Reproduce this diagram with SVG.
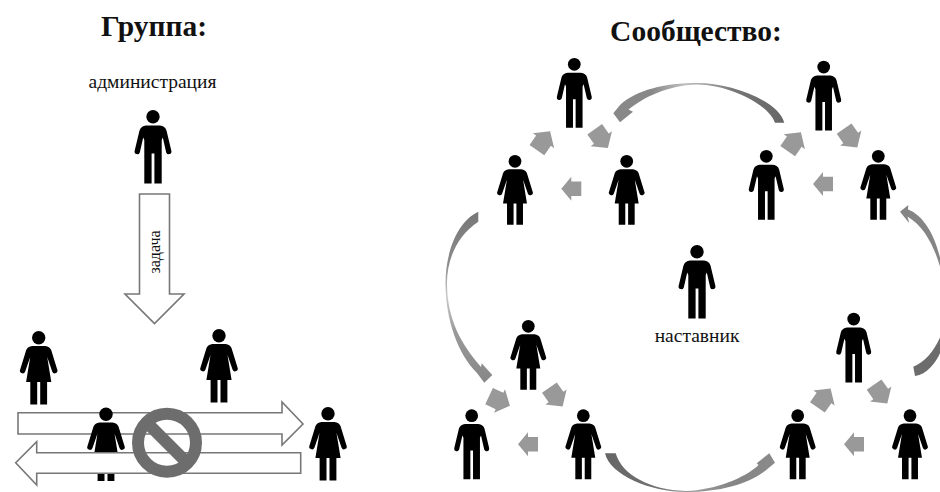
<svg xmlns="http://www.w3.org/2000/svg" xmlns:xlink="http://www.w3.org/1999/xlink" width="940" height="492" viewBox="0 0 940 492">
<style>
text{font-family:"Liberation Serif","Times New Roman",serif;fill:#111;text-anchor:middle}
.title{font-weight:bold;font-size:29.500px}
.label{font-size:19.500px}
.small{font-size:16px}
.flow{fill:#fff;stroke:#777;stroke-width:1.6}
.step{fill:#999}
</style>
<defs>
<symbol id="man" overflow="visible"><circle cx="0" cy="6.7" r="6.7"/><path d="M-7,15.500H7Q12,16 13.500,20.500L18.400,41A2.700,2.700 0 0 1 13.200,42.400L9.800,27.500 8.700,30V73.500H1.400V43.500H-1.400V73.500H-8.700V30L-9.800,27.500-13.200,42.400A2.700,2.700 0 0 1-18.400,41L-13.500,20.500Q-12,16-7,15.500Z"/></symbol>
<symbol id="woman" overflow="visible"><circle cx="0" cy="6.7" r="6.7"/><path d="M-6.500,15H6.500Q11,15.500 12.500,19L18.500,38.500A2.700,2.700 0 0 1 13.600,40.800L8.500,26 12.600,51H8.400V73.500H1.500V51H-1.500V73.500H-8.400V51H-12.600L-8.500,26-13.600,40.800A2.700,2.700 0 0 1-18.500,38.500L-12.500,19Q-11,15.500-6.500,15Z"/></symbol>
<polygon id="step" class="step" points="-10,-7.300 0,-7.300 0,-12 10,0 0,12 0,7.300 -10,7.300"/>
<polygon id="stepd" class="step" points="-11.500,-9 0,-9 0,-13 11.500,0 0,13 0,9 -11.500,9"/>
<linearGradient id="gTop" gradientUnits="userSpaceOnUse" x1="784" y1="120" x2="613" y2="115"><stop offset="0" stop-color="#666"/><stop offset=".3" stop-color="#777"/><stop offset=".58" stop-color="#c0c0c0"/><stop offset=".78" stop-color="#888"/><stop offset="1" stop-color="#888"/></linearGradient>
<linearGradient id="gLeft" gradientUnits="userSpaceOnUse" x1="478" y1="212" x2="490" y2="380"><stop offset="0" stop-color="#777"/><stop offset=".3" stop-color="#8c8c8c"/><stop offset=".48" stop-color="#ccc"/><stop offset=".7" stop-color="#999"/><stop offset="1" stop-color="#888"/></linearGradient>
<linearGradient id="gBottom" gradientUnits="userSpaceOnUse" x1="605" y1="455" x2="775" y2="460"><stop offset="0" stop-color="#666"/><stop offset=".3" stop-color="#707070"/><stop offset=".5" stop-color="#a0a0a0"/><stop offset=".75" stop-color="#858585"/><stop offset="1" stop-color="#8a8a8a"/></linearGradient>
</defs>
<rect width="940" height="492" fill="#fff"/>

<g id="left-flows">
<polygon class="flow" points="18,412.700 282,412.700 282,402 303,424 282,445 282,434 18,434"/>
</g>
<text class="title" x="154" y="36">Группа:</text>
<text class="label" x="152.500" y="88">администрация</text>
<g id="task-arrow"><polygon class="flow" points="139.500,194 169.500,194 169.500,294 184,294 154.500,323.500 125,294 139.500,294"/><text class="small" transform="translate(160,252) rotate(-90)" x="0" y="0">задача</text></g>
<g id="admin"><use xlink:href="#man" href="#man" transform="translate(153,110)"/></g>
<g id="g-woman-1"><use xlink:href="#woman" href="#woman" transform="translate(38.700,331)"/></g>
<g id="g-woman-2"><use xlink:href="#woman" href="#woman" transform="translate(219,329)"/></g>
<g id="g-woman-3"><use xlink:href="#woman" href="#woman" transform="translate(106,407.500)"/></g>
<g id="g-woman-4"><use xlink:href="#woman" href="#woman" transform="translate(328,407)"/></g>
<g id="return-arrow"><polygon class="flow" points="300.700,452.700 36.700,452.700 36.700,441.700 15.700,462.700 36.700,485 36.700,473.300 300.700,473.300"/></g>
<g id="prohibition" fill="none" stroke="#6d6d6d" stroke-width="12"><circle cx="167" cy="442.700" r="29"/><path d="M146.500,422.200L187.500,463.200"/></g>

<text class="title" x="696" y="41">Сообщество:</text>
<g id="mentor"><use xlink:href="#man" href="#man" transform="translate(697,245)"/></g>
<text class="label" x="697" y="342">наставник</text>

<g id="connectors">
<use xlink:href="#step" href="#step" transform="translate(571.300,188.700) rotate(180)"/>
<use xlink:href="#stepd" href="#stepd" transform="translate(543.500,140.700) rotate(-55)"/>
<use xlink:href="#stepd" href="#stepd" transform="translate(601.300,138.700) rotate(55)"/>
<use xlink:href="#step" href="#step" transform="translate(823,184) rotate(180)"/>
<use xlink:href="#stepd" href="#stepd" transform="translate(794.300,141.700) rotate(-55)"/>
<use xlink:href="#stepd" href="#stepd" transform="translate(850.700,138) rotate(55)"/>
<use xlink:href="#step" href="#step" transform="translate(528,444.300) rotate(180)"/>
<use xlink:href="#stepd" href="#stepd" transform="translate(499.500,401) rotate(25)"/>
<use xlink:href="#stepd" href="#stepd" transform="translate(556,397) rotate(55)"/>
<use xlink:href="#step" href="#step" transform="translate(854,444.300) rotate(180)"/>
<use xlink:href="#stepd" href="#stepd" transform="translate(824,398) rotate(-55)"/>
<use xlink:href="#stepd" href="#stepd" transform="translate(880.700,394) rotate(55)"/>
<path fill="url(#gTop)" d="M784.300,122.700C778,100 730,83 697,83C665,83 636,90 620,105L613.300,113.300 620,122.300 633,111.700 628.500,109.500C644,97 668,85.500 697,84.500C730,85 768,104 775,122.700Z"/>
<path fill="url(#gLeft)" d="M478.300,211.700C456,222 445.500,255 445.500,283C445.500,320 458,354 477,373L484.300,382.700 492.300,375 481.700,363.300 481,367C462,345 447,320 447,283C447,258 458,235 478.300,221.700Z"/>
<path fill="#858585" d="M900,211.700L908.300,205 908,209.500C925,216 936,238 941,262V270C935,248 925,227 907.500,216.500L909.300,223.300Z"/>
<path fill="#6c6c6c" d="M941,335C935,350 925,362 913.300,366.700L915,376C928,374 936,362 941,351Z"/>
<path fill="url(#gBottom)" d="M605,453.300C610,475 650,492 686,492C720,492 748,484 765,471L775,462.700 769.300,453.300 756.700,463.300 758.500,465C745,478 715,490 686,491C650,490 622,475 615.700,453.300Z"/>
</g>

<g id="c-man-1"><use xlink:href="#man" href="#man" transform="translate(574.300,58) scale(.95)"/></g>
<g id="c-woman-1"><use xlink:href="#woman" href="#woman" transform="translate(515,155) scale(.95)"/></g>
<g id="c-woman-2"><use xlink:href="#woman" href="#woman" transform="translate(626.700,155) scale(.95)"/></g>
<g id="c-man-2"><use xlink:href="#man" href="#man" transform="translate(823.700,60.700) scale(.95)"/></g>
<g id="c-man-3"><use xlink:href="#man" href="#man" transform="translate(766.300,150) scale(.95)"/></g>
<g id="c-woman-3"><use xlink:href="#woman" href="#woman" transform="translate(878.300,150) scale(.95)"/></g>
<g id="c-woman-4"><use xlink:href="#woman" href="#woman" transform="translate(528.300,320) scale(.95)"/></g>
<g id="c-man-4"><use xlink:href="#man" href="#man" transform="translate(853.700,312.700) scale(.95)"/></g>
<g id="c-man-5"><use xlink:href="#man" href="#man" transform="translate(471.700,409.300) scale(.95)"/></g>
<g id="c-woman-5"><use xlink:href="#woman" href="#woman" transform="translate(583.300,409.300) scale(.95)"/></g>
<g id="c-woman-6"><use xlink:href="#woman" href="#woman" transform="translate(797.700,409.300) scale(.95)"/></g>
<g id="c-woman-7"><use xlink:href="#woman" href="#woman" transform="translate(910,409.300) scale(.95)"/></g>
</svg>
